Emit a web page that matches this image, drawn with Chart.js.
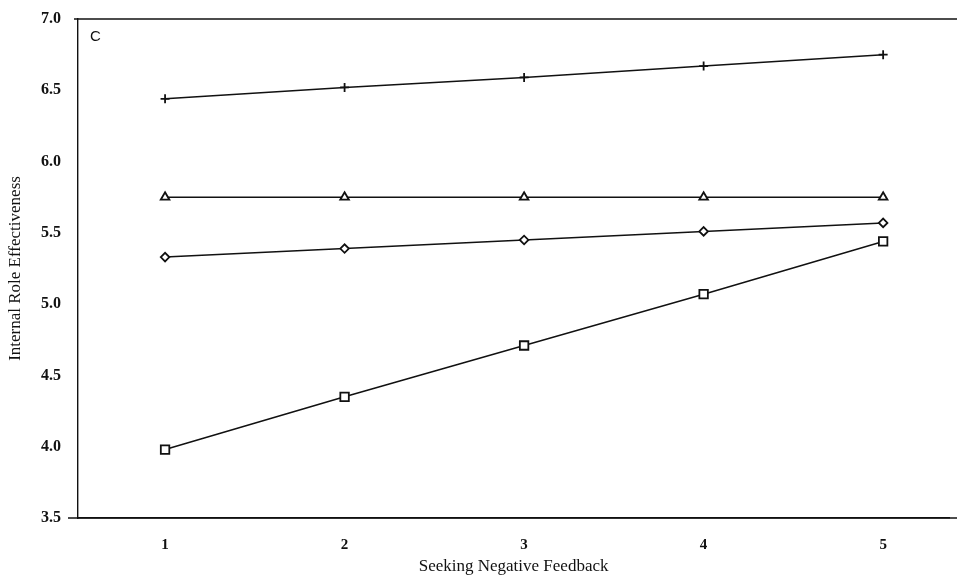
<!DOCTYPE html>
<html>
<head>
<meta charset="utf-8">
<script src="https://cdn.jsdelivr.net/npm/chart.js@4/dist/chart.umd.min.js"></script>
<style>
html,body{margin:0;padding:0;background:#fff;overflow:hidden;}
#wrap{width:957px;height:580px;}
</style>
</head>
<body>
<div id="wrap"><canvas id="c" width="957" height="580"></canvas></div>
<script>
const categories = [1, 2, 3, 4, 5];
const plusSeries = [6.44, 6.52, 6.59, 6.67, 6.75];
const triangleSeries = [5.75, 5.75, 5.75, 5.75, 5.75];
const diamondSeries = [5.33, 5.39, 5.45, 5.51, 5.57];
const squareSeries = [3.98, 4.35, 4.71, 5.07, 5.44];
const yTicks = [3.5, 4.0, 4.5, 5.0, 5.5, 6.0, 6.5, 7.0];
const panelLabel = 'C';
const xTitle = 'Seeking Negative Feedback';
const yTitle = 'Internal Role Effectiveness';

function pts(arr){ return categories.map((x,i)=>({x:x, y:arr[i]})); }
function ds(arr, style, r){
  return {data: pts(arr), borderColor:'#111', backgroundColor:'#fff', borderWidth:1.5,
    pointStyle: style, pointRadius: r, pointBorderColor:'#111', pointBackgroundColor:'#fff',
    pointBorderWidth:1.8, tension:0, fill:false};
}

const extras = {
  id:'extras',
  afterDraw(chart){
    const ctx = chart.ctx, a = chart.chartArea;
    ctx.save();
    ctx.strokeStyle = '#111'; ctx.lineWidth = 1.4;
    ctx.beginPath(); ctx.moveTo(a.left-4, a.top); ctx.lineTo(chart.width, a.top); ctx.stroke();
    ctx.beginPath(); ctx.moveTo(a.left-10, a.bottom); ctx.lineTo(chart.width, a.bottom); ctx.stroke();
    ctx.fillStyle = '#111';
    ctx.font = '15px "Liberation Sans", Arial, sans-serif';
    ctx.textBaseline = 'middle'; ctx.textAlign = 'left';
    ctx.fillText(panelLabel, a.left + 12, a.top + 18);
    ctx.restore();
  }
};

new Chart(document.getElementById('c'), {
  type:'line',
  data:{ datasets:[
    ds(plusSeries, 'cross', 4.5),
    ds(triangleSeries, 'triangle', 5),
    ds(diamondSeries, 'rectRot', 4.3),
    ds(squareSeries, 'rect', 6)
  ]},
  options:{
    responsive:false, animation:false,
    layout:{padding:{top:19, right:0, left:0, bottom:0}},
    plugins:{legend:{display:false}, tooltip:{enabled:false}},
    scales:{
      x:{type:'linear', min:0.515, max:5.368,
        afterBuildTicks(s){ s.ticks = categories.map(v=>({value:v})); },
        afterFit(s){ s.height = 62; s.paddingLeft = 0; s.paddingRight = 0; },
        grid:{display:false, drawTicks:false},
        border:{display:true, color:'#111', width:1.4},
        ticks:{color:'#111', padding:18, font:{family:'"Liberation Serif", serif', size:15, weight:'bold'},
          callback:v=>String(v)},
        title:{display:true, text:xTitle, color:'#111', padding:{top:0,bottom:3},
          font:{family:'"Liberation Serif", serif', size:17}}
      },
      y:{type:'linear', min:3.5, max:7.0,
        afterBuildTicks(s){ s.ticks = yTicks.map(v=>({value:v})); },
        afterFit(s){ s.width = 78; s.paddingTop = 0; s.paddingBottom = 0; },
        grid:{display:false, drawTicks:false},
        border:{display:true, color:'#111', width:1.4},
        ticks:{color:'#111', padding:17, font:{family:'"Liberation Serif", serif', size:16, weight:'bold'},
          callback:v=>Number(v).toFixed(1)},
        title:{display:true, text:yTitle, color:'#111', padding:{top:5,bottom:0},
          font:{family:'"Liberation Serif", serif', size:17}}
      }
    }
  },
  plugins:[extras]
});
</script>
</body>
</html>
